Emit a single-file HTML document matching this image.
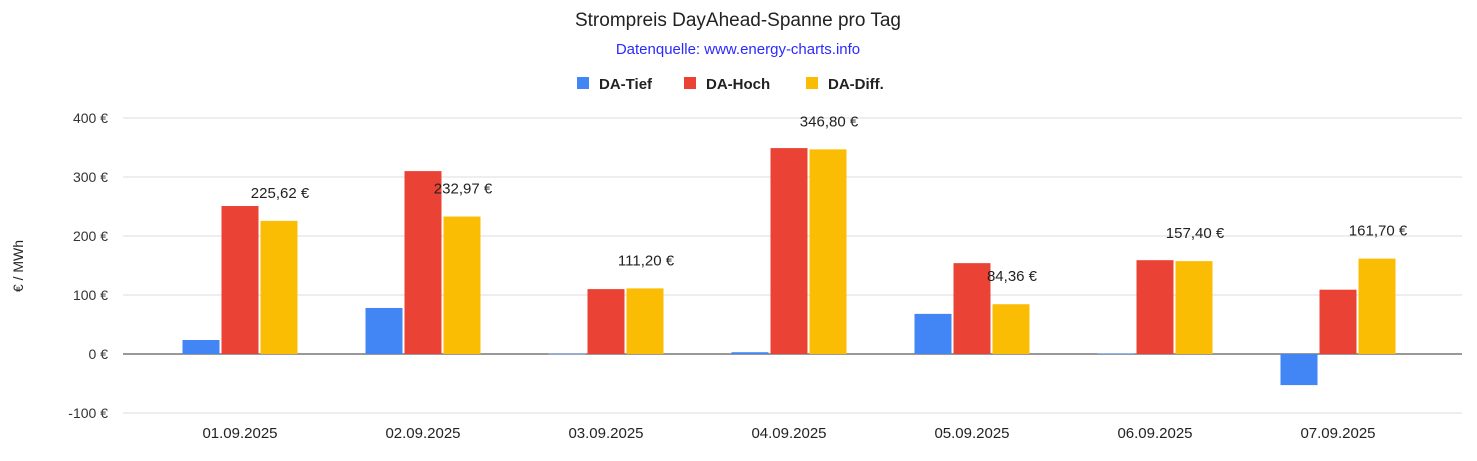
<!DOCTYPE html>
<html><head><meta charset="utf-8"><style>
body{margin:0;background:#fff;font-family:"Liberation Sans",Arial,sans-serif}
</style></head><body>
<svg id="chart" width="1477" height="456" xmlns="http://www.w3.org/2000/svg" font-family="Liberation Sans, Arial, sans-serif">
<text x="738" y="26" text-anchor="middle" font-size="19" fill="#222">Strompreis DayAhead-Spanne pro Tag</text>
<text x="738" y="54" text-anchor="middle" font-size="15" fill="#2a2aff">Datenquelle: www.energy-charts.info</text>
<g font-size="15" font-weight="bold" fill="#222">
<rect x="577" y="77" width="12" height="12" fill="#4285f4"/>
<text x="599" y="89">DA-Tief</text>
<rect x="684" y="77" width="12" height="12" fill="#ea4335"/>
<text x="706" y="89">DA-Hoch</text>
<rect x="806" y="77" width="12" height="12" fill="#fbbc04"/>
<text x="828" y="89">DA-Diff.</text>
</g>
<text transform="translate(23,266) rotate(-90)" text-anchor="middle" font-size="14" fill="#222">€ / MWh</text>
<g id="grid"></g><g id="bars"></g><g id="labels"></g>
</svg>
<script>
const categories=["01.09.2025","02.09.2025","03.09.2025","04.09.2025","05.09.2025","06.09.2025","07.09.2025"];
const tief=[23.7,78,0.5,3,68,1,-52.7];
const hoch=[250.8,310,110,349,154,159,109];
const diff=[225.62,232.97,111.2,346.8,84.36,157.4,161.7];
const diffLabels=["225,62 €","232,97 €","111,20 €","346,80 €","84,36 €","157,40 €","161,70 €"];
const yTicks=[-100,0,100,200,300,400];
const yTickLabels=["-100 €","0 €","100 €","200 €","300 €","400 €"];
const NS="http://www.w3.org/2000/svg";
const y=v=>354-v*0.59;
const x0=148.5,step=183;
const cx=i=>x0+step*(i+0.5);
function mk(tag,attrs,parent){const e=document.createElementNS(NS,tag);for(const k in attrs)e.setAttribute(k,attrs[k]);document.getElementById(parent).appendChild(e);return e;}
yTicks.forEach((t,i)=>{
 const l=mk('line',{x1:123,x2:1462,y1:y(t),y2:y(t),stroke:t===0?'#333':'#ddd','stroke-width':1},'grid');
 
 
 const tx=mk('text',{x:108,y:y(t)+5,'text-anchor':'end','font-size':14,fill:'#333'},'grid');
 tx.textContent=yTickLabels[i];
 
 
});
const series=[[tief,'#4285f4','tief'],[hoch,'#ea4335','hoch'],[diff,'#fbbc04','diff']];
const bw=37,gap=2;
categories.forEach((c,i)=>{
 const start=cx(i)-(3*bw+2*gap)/2;
 series.forEach(([arr,col,nm],s)=>{
  const v=arr[i];const top=Math.min(y(v),y(0));const h=Math.abs(y(v)-y(0));
  const r=mk('rect',{x:start+s*(bw+gap),y:top,width:bw,height:Math.max(h,0.5),fill:col},'bars');
  
  
 });
 const lb=mk('text',{x:start+2*(bw+gap)+bw/2+1,y:y(diff[i])-23,'text-anchor':'middle','font-size':15,fill:'#222'},'labels');
 lb.textContent=diffLabels[i];
 
 
 const xl=mk('text',{x:cx(i),y:438,'text-anchor':'middle','font-size':15,fill:'#222'},'labels');
 xl.textContent=c;
 
 
});
</script>
</body></html>
